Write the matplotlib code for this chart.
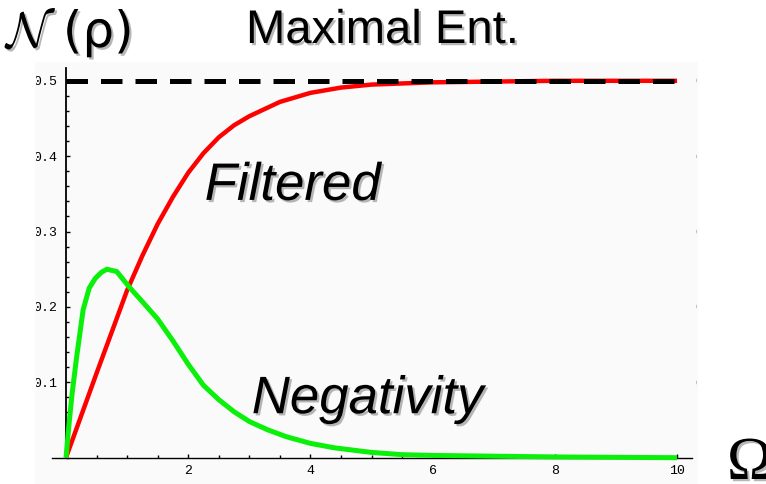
import matplotlib
matplotlib.use('Agg')
import matplotlib.pyplot as plt
import matplotlib.patheffects as pe
from matplotlib.patches import Rectangle
from matplotlib.ticker import MultipleLocator, FixedLocator
from matplotlib.transforms import Bbox, TransformedBbox

# values
omega_f = [0, 0.25, 0.5, 0.75, 1.0, 1.25, 1.5, 1.75, 2.0, 2.25, 2.5, 2.75, 3.0,
           3.5, 4.0, 4.5, 5.0, 6.0, 7.0, 8.0, 10.0]
filtered = [0, 0.056, 0.112, 0.167, 0.222, 0.268, 0.31, 0.346, 0.378, 0.404,
            0.425, 0.441, 0.453, 0.472, 0.484, 0.491, 0.495, 0.498, 0.499, 0.5, 0.5]

omega_n = [0, 0.05, 0.1, 0.175, 0.28, 0.38, 0.48, 0.58, 0.67, 0.83, 1.05, 1.25,
           1.5, 1.75, 2.0, 2.25, 2.5, 2.75, 3.0, 3.3, 3.6, 4.0, 4.4, 5.0, 5.5, 6.0,
           7.0, 8.0, 9.0, 10.0]
negativity = [0, 0.045, 0.085, 0.134, 0.196, 0.225, 0.238, 0.246, 0.250, 0.247,
              0.225, 0.207, 0.184, 0.155, 0.124, 0.096, 0.077, 0.061, 0.048, 0.037,
              0.028, 0.019, 0.013, 0.007, 0.004, 0.003, 0.002, 0.001, 0.0005, 0.0]

max_level = 0.5
yticks = [0.1, 0.2, 0.3, 0.4, 0.5]
xticks = [2, 4, 6, 8, 10]

W, H = 766, 484
fig = plt.figure(figsize=(W / 100, H / 100), dpi=100)
fig.patch.set_facecolor('white')

# faint grey backdrop of the pasted plot image
fig.patches.append(Rectangle((35 / W, 0), (697 - 35) / W, (H - 62) / H,
                             transform=fig.transFigure, color='#fafafa', zorder=-1))

ax = fig.add_axes([52 / W, (H - 465) / H, (692 - 52) / W, (465 - 68) / H])
ax.set_facecolor('none')
ax.set_xlim(-0.229, 10.245)
ax.set_ylim(-0.0097, 0.517)

ax.plot(omega_f, filtered, color='#ff0000', lw=3.2, zorder=3, solid_capstyle='butt')
ax.plot(omega_n, negativity, color='#0af00a', lw=3.6, zorder=4, solid_capstyle='butt')
ax.plot([0, 10], [max_level, max_level], color='black', lw=3.6,
        dashes=(4.3, 2.6), zorder=5)

for s in ['top', 'right']:
    ax.spines[s].set_visible(False)
ax.spines['left'].set_position(('data', 0))
ax.spines['bottom'].set_position(('data', 0))
ax.spines['left'].set_bounds(0, 0.517)
ax.spines['left'].set_linewidth(1.3)
ax.spines['bottom'].set_linewidth(1.0)

ax.xaxis.set_major_locator(FixedLocator(xticks))
ax.xaxis.set_minor_locator(MultipleLocator(0.5))
ax.yaxis.set_major_locator(FixedLocator(yticks))
ax.yaxis.set_minor_locator(MultipleLocator(0.02))
ax.tick_params(which='both', direction='in', width=1.0, color='black')
ax.tick_params(which='major', length=3.2)
ax.tick_params(which='minor', length=2.4)
ax.tick_params(axis='y', pad=6.5)
ax.tick_params(axis='x', pad=5)
lab_font = dict(family='Liberation Mono', fontsize=9.5)
ax.set_yticks(yticks)
ax.set_yticklabels([f'{v:.1f}' for v in yticks], **lab_font)
ax.set_xticks(xticks)
ax.set_xticklabels([str(v) for v in xticks], **lab_font)

# right-hand copy of the labels, cut by the image edge
ax2 = ax.twinx()
ax2.set_ylim(ax.get_ylim())
for s in ax2.spines.values():
    s.set_visible(False)
ax2.set_yticks(yticks)
ax2.set_yticklabels([f'{v:.1f}' for v in yticks], **lab_font)
ax2.tick_params(axis='y', length=0, pad=2)

clip = TransformedBbox(Bbox([[36 / W, 0], [697 / W, 1]]), fig.transFigure)
for lab in ax.get_yticklabels() + ax2.get_yticklabels():
    lab.set_clip_on(True)
    lab.set_clip_box(clip)

shadow = [pe.withSimplePatchShadow(offset=(1.6, -1.6), shadow_rgbFace='#888888', alpha=0.6)]

ax.text(2.27, 0.342, 'Filtered', family='Liberation Sans', style='italic',
        fontsize=38, ha='left', va='baseline', path_effects=shadow, zorder=6)
ax.text(3.04, 0.059, 'Negativity', family='Liberation Sans', style='italic',
        fontsize=38, ha='left', va='baseline', path_effects=shadow, zorder=6)

plt.rcParams['mathtext.fontset'] = 'cm'
fig.text(246 / W, (H - 43) / H, 'Maximal Ent.', family='Liberation Sans',
         fontsize=34, ha='left', va='baseline', path_effects=shadow)
fig.text(6 / W, (H - 47) / H, r'$\mathcal{N}$ (ρ)', family='DejaVu Sans',
         fontsize=36, ha='left', va='baseline', path_effects=shadow)
fig.text(727 / W, (H - 479) / H, 'Ω', family='Liberation Serif',
         fontsize=44, ha='left', va='baseline', path_effects=shadow)

fig.savefig('out.png', dpi=100, facecolor='white')
